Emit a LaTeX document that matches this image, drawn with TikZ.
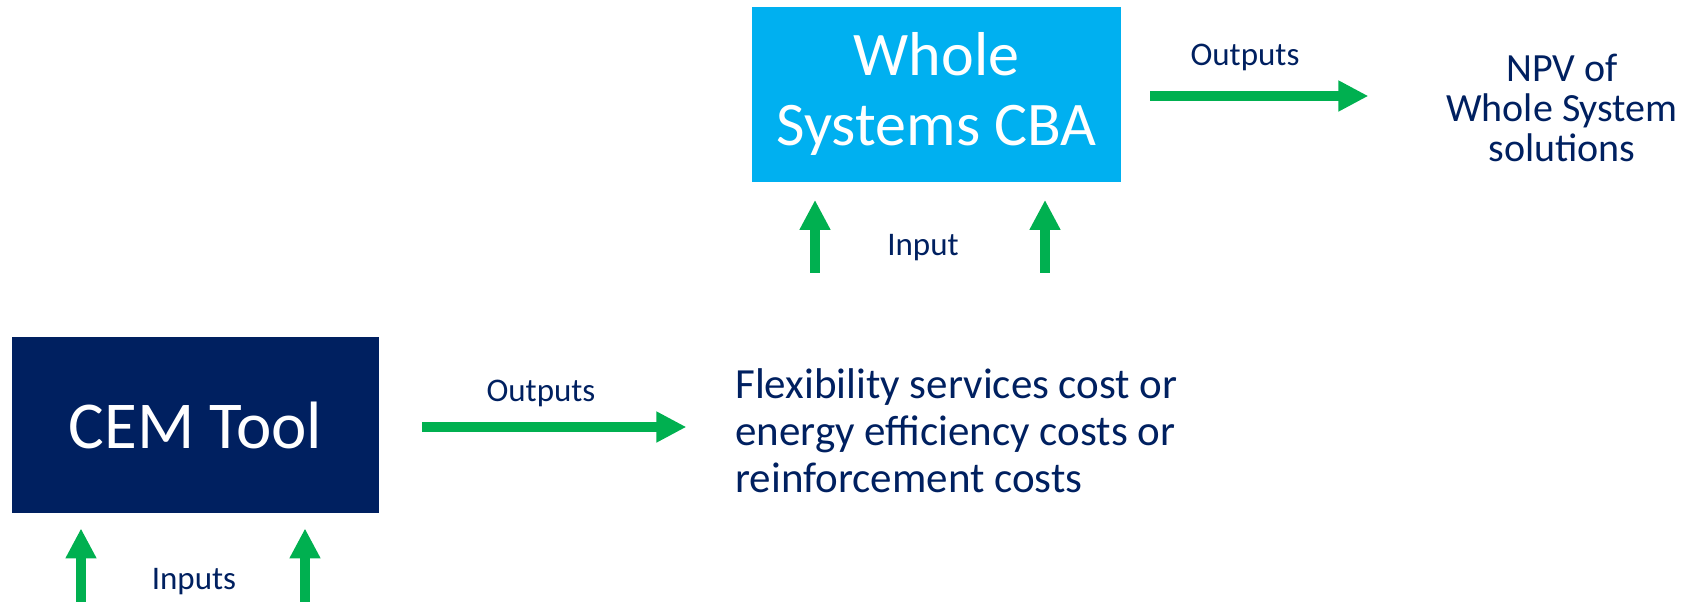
\documentclass[tikz,border=0pt]{standalone}
\usepackage{fontspec}
\setmainfont{Carlito}
\usetikzlibrary{arrows.meta}
\definecolor{cbablue}{HTML}{00B0F0}
\definecolor{navy}{HTML}{002060}
\definecolor{flowgreen}{HTML}{00B050}

\begin{document}
\begin{tikzpicture}[x=0.5pt, y=0.5pt,
	tool/.style={inner sep=0, align=center, text=white, font=\fontsize{31}{35}\selectfont},
	label/.style={inner sep=0, text=navy, font=\fontsize{16.5}{19}\selectfont},
	result/.style={inner sep=0, text=navy},
	flow/.style={draw=flowgreen, line width=5pt, -{Triangle[length=15pt, width=14.5pt]}}]
	\useasboundingbox (0, 0) rectangle (1688, -601);

	% whole systems CBA
	\node[tool, fill=cbablue, minimum width=184.5pt, minimum height=87.5pt] (cba) at (936.5, -94) {Whole\\Systems CBA};
	\node[result, align=center, font=\fontsize{20}{20}\selectfont] (npv) at (1562, -108) {NPV of\\Whole System\\solutions};
	\draw[flow] ([xshift=14.5pt, yshift=-1pt]cba.east) coordinate (cbaout) -- ++(218, 0) coordinate (npvin);
	\node[label] (cbaoutlabel) at (1245, -57) {Outputs};

	\coordinate (cbainl) at ([xshift=-60.75pt, yshift=-45.5pt]cba.south);
	\coordinate (cbainr) at ([xshift=54.25pt, yshift=-45.5pt]cba.south);
	\draw[flow] (cbainl) -- ([yshift=-9pt]cbainl |- cba.south);
	\draw[flow] (cbainr) -- ([yshift=-9pt]cbainr |- cba.south);
	\node[label] (cbainlabel) at (923, -248) {Input};

	% CEM tool
	\node[tool, fill=navy, minimum width=183.5pt, minimum height=88pt, font=\fontsize{33.5}{38}\selectfont] (cem) at (195.5, -425) {CEM Tool};
	\node[result, anchor=west, align=left, font=\fontsize{21.5}{23.5}\selectfont] (costs) at (735, -431) {Flexibility services cost or\\energy efficiency costs or\\reinforcement costs};
	\draw[flow] ([xshift=21.5pt, yshift=-1pt]cem.east) coordinate (cemout) -- ++(264, 0) coordinate (costsin);
	\node[label] (cemoutlabel) at (541, -393) {Outputs};

	\coordinate (ceminl) at ([xshift=-57.25pt, yshift=-45pt]cem.south);
	\coordinate (ceminr) at ([xshift=54.75pt, yshift=-45pt]cem.south);
	\draw[flow] (ceminl) -- ([yshift=-7.5pt]ceminl |- cem.south);
	\draw[flow] (ceminr) -- ([yshift=-7.5pt]ceminr |- cem.south);
	\node[label] (cemintlabel) at (194, -582) {Inputs};
\end{tikzpicture}
\end{document}
